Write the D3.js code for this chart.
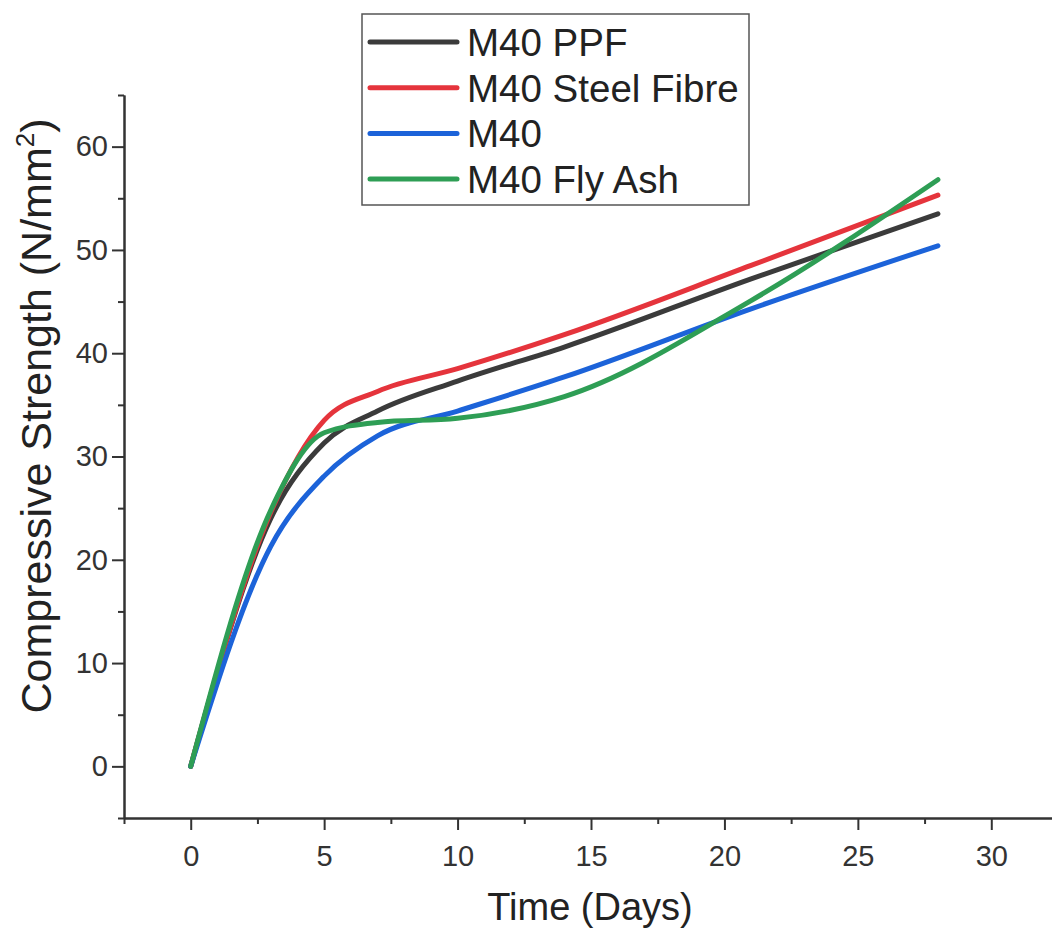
<!DOCTYPE html>
<html>
<head>
<meta charset="utf-8">
<script src="https://cdn.jsdelivr.net/npm/d3@7"></script>
<style>
  body { margin: 0; background: #fff; }
  svg { font-family: "Liberation Sans", Arial, sans-serif; }
</style>
</head>
<body>
<svg width="1052" height="931"></svg>
<script>
var days = [0, 3, 5, 7, 10, 14, 21, 28];

var ppf   = [0, 24.0, 31.3, 34.4, 37.3, 40.6, 47.2, 53.5];
var steel = [0, 24.6, 33.5, 36.3, 38.5, 41.8, 48.5, 55.3];
var plain = [0, 21.3, 28.1, 32.0, 34.4, 37.7, 44.3, 50.4];
var flyAsh = [0, 24.8, 32.3, 33.3, 33.7, 35.8, 45.1, 56.8];

var seriesNames = ["M40 PPF", "M40 Steel Fibre", "M40", "M40 Fly Ash"];
var seriesColors = ["#3b3b3b", "#e5343c", "#1c63d9", "#2e9e55"];

var xMajor = [0, 5, 10, 15, 20, 25, 30];
var xMinor = [-2.5, 2.5, 7.5, 12.5, 17.5, 22.5, 27.5, 32.5];
var yMajor = [0, 10, 20, 30, 40, 50, 60];
var yMinor = [-5, 5, 15, 25, 35, 45, 55, 65];

var svg = d3.select("svg");

var x = d3.scaleLinear().domain([-2.5, 32.5]).range([124, 1058]);
var y = d3.scaleLinear().domain([-5, 65]).range([818, 95]);

var series = [ppf, steel, plain, flyAsh].map(function(vals, i) {
    return {
        name: seriesNames[i],
        color: seriesColors[i],
        points: days.map(function(d, j) { return [d, vals[j]]; })
    };
});

// axes - major + minor ticks
function styleAxis(g) {
    g.selectAll("path, line").attr("stroke", "#333").attr("stroke-width", 2);
    g.selectAll("text").attr("fill", "#333").attr("font-size", 29);
}

svg.append("g")
    .attr("transform", "translate(0,818)")
    .call(d3.axisBottom(x).tickValues(xMajor).tickSize(12).tickSizeOuter(0).tickPadding(15))
    .call(styleAxis);
svg.append("g")
    .attr("transform", "translate(0,818)")
    .call(d3.axisBottom(x).tickValues(xMinor).tickSize(6).tickSizeOuter(0).tickFormat(""))
    .call(styleAxis);

svg.append("g")
    .attr("transform", "translate(124,0)")
    .call(d3.axisLeft(y).tickValues(yMajor).tickSize(12).tickSizeOuter(0).tickPadding(4))
    .call(styleAxis);
svg.append("g")
    .attr("transform", "translate(124,0)")
    .call(d3.axisLeft(y).tickValues(yMinor).tickSize(6).tickSizeOuter(0).tickFormat(""))
    .call(styleAxis);

// axis titles
svg.append("text")
    .attr("x", 590).attr("y", 920)
    .attr("text-anchor", "middle")
    .attr("font-size", 38)
    .attr("fill", "#222")
    .text("Time (Days)");

var yt = svg.append("text")
    .attr("transform", "translate(51,416) rotate(-90)")
    .attr("text-anchor", "middle")
    .attr("font-size", 43)
    .attr("fill", "#222");
yt.append("tspan").text("Compressive Strength (N/mm");
yt.append("tspan").attr("font-size", 26).attr("dy", -17).text("2");
yt.append("tspan").attr("dy", 17).text(")");

// curves
var line = d3.line()
    .x(function(d) { return x(d[0]); })
    .y(function(d) { return y(d[1]); })
    .curve(d3.curveMonotoneX);

svg.append("g").selectAll("path")
    .data(series)
    .enter().append("path")
    .attr("d", function(d) { return line(d.points); })
    .attr("fill", "none")
    .attr("stroke", function(d) { return d.color; })
    .attr("stroke-width", 5)
    .attr("stroke-linecap", "round")
    .attr("stroke-linejoin", "round");

// legend
var legend = svg.append("g");
legend.append("rect")
    .attr("x", 362).attr("y", 14)
    .attr("width", 387).attr("height", 191)
    .attr("fill", "#fff")
    .attr("stroke", "#555")
    .attr("stroke-width", 1.5);

var rows = legend.selectAll("g.row")
    .data(series)
    .enter().append("g")
    .attr("class", "row")
    .attr("transform", function(d, i) { return "translate(0," + (42 + i * 45.7) + ")"; });

rows.append("line")
    .attr("x1", 370).attr("x2", 457)
    .attr("stroke", function(d) { return d.color; })
    .attr("stroke-width", 5)
    .attr("stroke-linecap", "round");

rows.append("text")
    .attr("x", 467).attr("y", 14)
    .attr("font-size", 38.5)
    .attr("fill", "#222")
    .text(function(d) { return d.name; });
</script>
</body>
</html>
